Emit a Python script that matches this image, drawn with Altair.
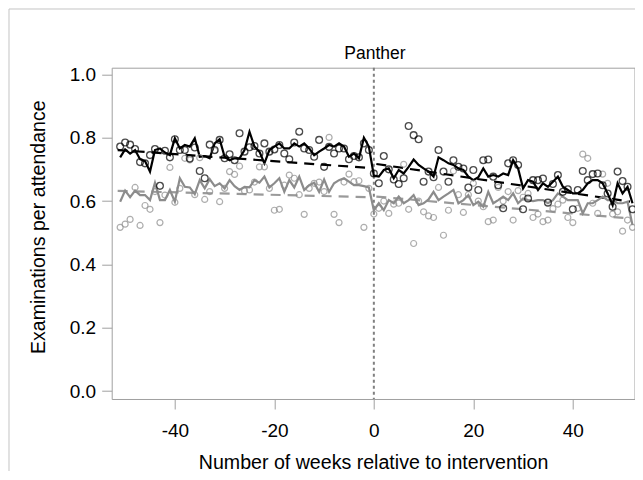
import altair as alt
import pandas as pd

weeks = list(range(-51, 53))

black_obs = [0.772,0.785,0.778,0.764,0.723,0.719,0.745,0.764,0.648,0.759,0.738,0.795,0.761,0.761,0.734,0.769,0.695,0.672,0.778,0.761,0.793,0.735,0.748,0.729,0.814,0.756,0.770,0.774,0.750,0.782,0.756,0.763,0.777,0.750,0.732,0.785,0.819,0.766,0.761,0.740,0.793,0.708,0.771,0.750,0.766,0.766,0.732,0.742,0.738,0.782,0.761,
             0.687,0.656,0.742,0.700,0.668,0.654,0.672,0.837,0.808,0.795,0.661,0.693,0.675,0.761,0.693,0.661,0.729,0.708,0.703,0.643,0.698,0.635,0.729,0.731,0.677,0.650,0.577,0.719,0.729,0.714,0.574,0.608,0.666,0.666,0.671,0.595,0.654,0.682,0.629,0.637,0.574,0.635,0.695,0.666,0.685,0.687,0.650,0.624,0.582,0.693,0.663,0.645,0.574]

gray_obs = [0.517,0.527,0.542,0.643,0.523,0.586,0.574,0.630,0.532,0.619,0.706,0.596,0.640,0.735,0.730,0.620,0.737,0.605,0.630,0.759,0.598,0.640,0.693,0.684,0.710,0.632,0.635,0.660,0.708,0.708,0.640,0.571,0.574,0.650,0.682,0.672,0.620,0.558,0.640,0.656,0.660,0.630,0.801,0.558,0.532,0.660,0.685,0.661,0.664,0.517,0.640,
            0.559,0.577,0.600,0.561,0.590,0.593,0.716,0.574,0.466,0.600,0.566,0.553,0.548,0.643,0.492,0.571,0.695,0.620,0.564,0.620,0.656,0.600,0.582,0.535,0.540,0.643,0.600,0.630,0.540,0.633,0.612,0.624,0.548,0.559,0.535,0.540,0.576,0.590,0.603,0.548,0.532,0.577,0.748,0.735,0.593,0.561,0.685,0.656,0.559,0.566,0.505,0.540,0.517]

black_fit = [0.738,0.763,0.750,0.761,0.732,0.726,0.693,0.761,0.766,0.753,0.745,0.798,0.766,0.777,0.772,0.798,0.740,0.742,0.735,0.782,0.795,0.740,0.729,0.735,0.735,0.761,0.819,0.772,0.756,0.719,0.761,0.772,0.782,0.766,0.766,0.782,0.772,0.782,0.766,0.745,0.756,0.766,0.777,0.772,0.782,0.772,0.740,0.750,0.735,0.800,0.772,
             0.680,0.677,0.698,0.703,0.672,0.698,0.687,0.708,0.731,0.714,0.703,0.693,0.677,0.738,0.729,0.719,0.714,0.703,0.698,0.677,0.666,0.675,0.703,0.677,0.682,0.677,0.687,0.682,0.729,0.703,0.640,0.666,0.661,0.635,0.656,0.645,0.661,0.677,0.645,0.635,0.624,0.624,0.635,0.656,0.666,0.666,0.656,0.624,0.587,0.656,0.624,0.645,0.593]

gray_fit = [0.598,0.633,0.612,0.633,0.619,0.619,0.603,0.658,0.603,0.603,0.635,0.598,0.672,0.645,0.643,0.622,0.666,0.640,0.669,0.647,0.656,0.640,0.666,0.647,0.635,0.645,0.643,0.666,0.658,0.677,0.643,0.656,0.672,0.629,0.666,0.643,0.677,0.635,0.650,0.658,0.629,0.668,0.629,0.656,0.666,0.672,0.661,0.650,0.650,0.647,0.643,
            0.571,0.593,0.571,0.603,0.593,0.614,0.593,0.603,0.619,0.587,0.593,0.605,0.629,0.603,0.614,0.624,0.635,0.593,0.603,0.619,0.587,0.598,0.582,0.629,0.593,0.603,0.614,0.603,0.624,0.593,0.608,0.603,0.600,0.603,0.603,0.593,0.603,0.624,0.614,0.603,0.603,0.603,0.561,0.593,0.593,0.603,0.614,0.603,0.603,0.593,0.593,0.598,0.524]

trend_weeks = [-51.5, -0.5, 0.5, 51.5]
trend_segment = ["pre", "pre", "post", "post"]
black_trend = [0.761, 0.704, 0.717, 0.598]
gray_trend = [0.632, 0.612, 0.614, 0.545]

panel_title = "Panther"
x_title = "Number of weeks relative to intervention"
y_title = "Examinations per attendance"

obs = pd.DataFrame({"week": weeks, "black": black_obs, "gray": gray_obs,
                    "black_fit": black_fit, "gray_fit": gray_fit})
trend = pd.DataFrame({"week": trend_weeks, "seg": trend_segment,
                      "black": black_trend, "gray": gray_trend})

W, H = 522.8, 331.3
xscale = alt.Scale(domain=[-52.7, 52.4], nice=False, zero=False)
yscale = alt.Scale(domain=[-0.025, 1.021], nice=False, zero=False)

xax = alt.Axis(values=[-40, -20, 0, 20, 40], title=x_title, grid=False, domain=False,
               labelExpr="'' + datum.value",
               tickColor="#a0a0a0", tickSize=10, labelFontSize=19, labelPadding=12,
               labelColor="#000", titleFontSize=19.6, titleFontWeight="normal",
               titleColor="#000", titleY=69, titleBaseline="alphabetic")
yax = alt.Axis(values=[0, 0.2, 0.4, 0.6, 0.8, 1.0], format=".1f", title=y_title,
               grid=False, domain=False, tickColor="#a0a0a0", tickSize=10,
               labelFontSize=19, labelPadding=6, labelColor="#000",
               titleFontSize=19.6, titleFontWeight="normal", titleColor="#000",
               titleX=-67, titleY=159, titleBaseline="alphabetic")

base = alt.Chart(obs)

frame = alt.Chart(pd.DataFrame({"a": [0]})).mark_rect(
    fill="white", fillOpacity=0, stroke="#c4c4c4", strokeWidth=1
).encode(x=alt.value(-102.7), x2=alt.value(560), y=alt.value(-58.7), y2=alt.value(440))

rule = alt.Chart(pd.DataFrame({"w": [0]})).mark_rule(
    color="#808080", strokeWidth=2, strokeDash=[3, 3]
).encode(x=alt.X("w:Q", scale=xscale, axis=xax))

gray_tr = alt.Chart(trend).mark_line(color="#9a9a9a", strokeWidth=2.2, strokeDash=[10, 7]).encode(
    x=alt.X("week:Q", scale=xscale, axis=xax),
    y=alt.Y("gray:Q", scale=yscale, axis=yax), detail="seg:N")
black_tr = alt.Chart(trend).mark_line(color="#000000", strokeWidth=2.2, strokeDash=[10, 7]).encode(
    x=alt.X("week:Q", scale=xscale, axis=xax),
    y=alt.Y("black:Q", scale=yscale, axis=yax), detail="seg:N")

gray_line = base.mark_line(color="#8c8c8c", strokeWidth=2.2).encode(
    x=alt.X("week:Q", scale=xscale, axis=xax), y=alt.Y("gray_fit:Q", scale=yscale, axis=yax))
black_line = base.mark_line(color="#000000", strokeWidth=2.2).encode(
    x=alt.X("week:Q", scale=xscale, axis=xax), y=alt.Y("black_fit:Q", scale=yscale, axis=yax))

gray_pts = base.mark_point(shape="circle", filled=False, color="#8c8c8c", size=36, strokeWidth=1.2).encode(
    x=alt.X("week:Q", scale=xscale, axis=xax), y=alt.Y("gray:Q", scale=yscale, axis=yax))
black_pts = base.mark_point(shape="circle", filled=False, color="#000000", size=46, strokeWidth=1.3).encode(
    x=alt.X("week:Q", scale=xscale, axis=xax), y=alt.Y("black:Q", scale=yscale, axis=yax))

title_txt = alt.Chart(pd.DataFrame({"t": [panel_title]})).mark_text(
    fontSize=17.5, color="#000", baseline="alphabetic", align="center"
).encode(text="t:N", x=alt.value(263.3), y=alt.value(-8.4))

chart = alt.layer(frame, rule, gray_tr, black_tr, gray_line, black_line, gray_pts, black_pts, title_txt).properties(
    width=W, height=H,
    autosize=alt.AutoSizeParams(type="none"),
    padding={"left": 103.7, "top": 59.7, "right": 0.5, "bottom": 72},
).configure(font="Liberation Sans").configure_view(stroke="#a0a0a0", strokeWidth=1)

chart.save("out.html", embed_options={"renderer": "svg", "actions": False})
